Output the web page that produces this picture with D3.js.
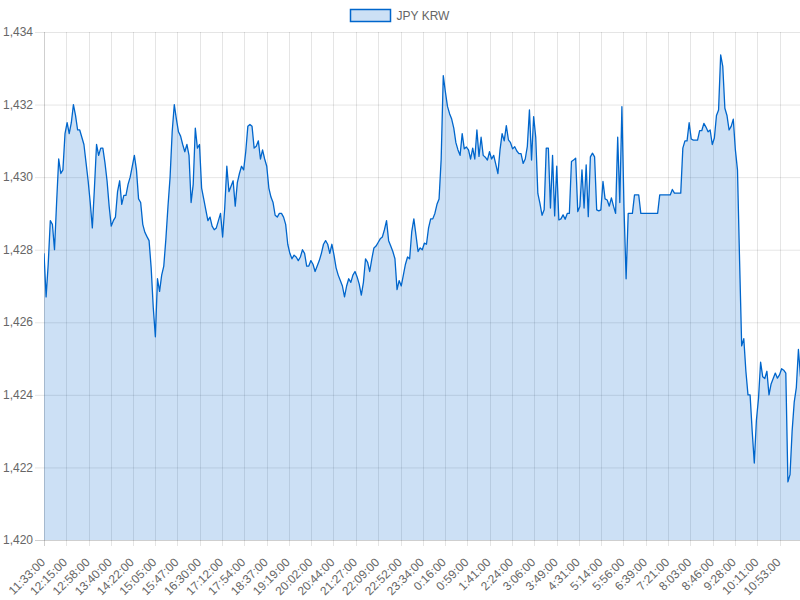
<!DOCTYPE html>
<html>
<head>
<meta charset="utf-8">
<script src="https://cdnjs.cloudflare.com/ajax/libs/d3/7.8.5/d3.min.js"></script>
<style>
    body { margin: 0; background: #fff; }
    svg { display: block; font-family: "Helvetica Neue", Helvetica, Arial, "Liberation Sans", sans-serif; }
    .tick-label { font-size: 12px; fill: #666; }
</style>
</head>
<body>
<script>
// JPY/KRW, one reading every 4 minutes starting 11:33
var seriesName = "JPY KRW";
var startTime = "11:33";
var sampleMinutes = 4;
var rates = [
    1427.9, 1426.7, 1427.6, 1428.8, 1428.7, 1428.0, 1429.3, 1430.5, 1430.1, 1430.2,
    1431.2, 1431.5, 1431.2, 1431.5, 1432.0, 1431.7, 1431.3, 1431.3, 1431.1, 1430.9,
    1430.4, 1429.9, 1429.3, 1428.6, 1429.7, 1430.9, 1430.6, 1430.8, 1430.8, 1430.4,
    1429.9, 1429.2, 1428.65, 1428.8, 1428.9, 1429.6, 1429.9, 1429.25, 1429.5, 1429.5,
    1429.8, 1430.0, 1430.3, 1430.6, 1430.2, 1429.4,
    1429.3, 1428.7, 1428.48, 1428.36, 1428.25, 1427.5, 1426.4, 1425.6, 1427.2, 1426.85,
    1427.3, 1427.55, 1428.3, 1429.2, 1430.0, 1431.25, 1432.0, 1431.6, 1431.25, 1431.13,
    1430.9, 1430.7, 1430.9, 1430.6, 1429.3, 1429.8, 1431.35, 1430.8, 1430.9, 1429.7,
    1429.4, 1429.1, 1428.8, 1428.9, 1428.65, 1428.55, 1428.6, 1428.8, 1429.0, 1428.35,
    1429.15, 1430.3, 1429.6, 1429.75, 1429.9,
    1429.2, 1429.85, 1430.1, 1430.3, 1430.2, 1430.7, 1431.4, 1431.45, 1431.4, 1430.8,
    1430.85, 1431.0, 1430.5, 1430.75, 1430.5, 1430.3, 1429.7, 1429.45, 1429.3, 1428.95,
    1428.9, 1429.0, 1429.0, 1428.9, 1428.7, 1428.15, 1427.9, 1427.75, 1427.85, 1427.8,
    1427.7, 1427.8, 1428.0, 1427.9, 1427.55, 1427.55, 1427.7, 1427.6, 1427.4, 1427.55,
    1427.7, 1427.9, 1428.15, 1428.25, 1428.15, 1427.9,
    1428.15, 1427.85, 1427.5, 1427.3, 1427.15, 1427.0, 1426.7, 1427.0, 1427.2, 1427.1,
    1427.3, 1427.4, 1427.25, 1427.05, 1426.75, 1427.1, 1427.75, 1427.65, 1427.4, 1427.75,
    1428.05, 1428.1, 1428.2, 1428.3, 1428.35, 1428.55, 1428.8, 1428.25, 1428.1, 1427.95,
    1427.75, 1426.9, 1427.15, 1427.0, 1427.3, 1427.6, 1427.8, 1427.75, 1428.5, 1428.85,
    1428.4, 1427.95, 1428.05, 1428.0, 1428.18,
    1428.15, 1428.6, 1428.85, 1428.85, 1429.0, 1429.25, 1429.4, 1430.5, 1432.8, 1432.35,
    1431.95, 1431.75, 1431.6, 1431.35, 1430.95, 1430.75, 1430.6, 1431.2, 1430.78, 1430.83,
    1430.75, 1430.5, 1430.8, 1430.5, 1431.3, 1430.57, 1431.1, 1430.6, 1430.55, 1430.47,
    1430.7, 1430.5, 1430.6, 1430.35, 1430.1, 1430.75, 1431.2, 1431.0, 1431.42, 1431.03,
    1430.95, 1430.78, 1430.84, 1430.72, 1430.65,
    1430.65, 1430.38, 1430.5, 1430.85, 1431.85, 1430.47, 1431.67, 1431.1, 1429.55, 1429.28,
    1428.95, 1429.1, 1430.8, 1430.8, 1429.15, 1430.6, 1428.93, 1430.3, 1428.82, 1428.85,
    1428.96, 1428.84, 1429.0, 1429.0, 1430.43, 1430.47, 1430.52, 1429.05, 1429.19, 1430.2,
    1429.15, 1430.34, 1428.91, 1430.56, 1430.66, 1430.56, 1429.1, 1429.07, 1429.1, 1429.88,
    1429.4, 1429.37, 1429.2, 1429.43, 1429.2,
    1429.0, 1431.1, 1429.3, 1431.94, 1429.15, 1427.2, 1429.0, 1429.0, 1429.0, 1429.51,
    1429.51, 1429.51, 1429.0, 1429.0, 1429.0, 1429.0, 1429.0, 1429.0, 1429.0, 1429.0,
    1429.0, 1429.51, 1429.51, 1429.51, 1429.51, 1429.51, 1429.51, 1429.66, 1429.56, 1429.56,
    1429.56, 1429.56, 1430.8, 1431.0, 1431.0, 1431.5, 1431.05, 1431.02, 1431.02, 1431.02,
    1431.28, 1431.28, 1431.48, 1431.38, 1431.25,
    1431.3, 1430.9, 1431.08, 1431.7, 1431.85, 1433.37, 1433.05, 1431.9, 1431.7, 1431.3,
    1431.4, 1431.6, 1430.75, 1430.2, 1427.7, 1425.35, 1425.55, 1424.65, 1424.0, 1424.0,
    1423.0, 1422.12, 1423.3, 1423.9, 1424.9, 1424.5, 1424.45, 1424.65, 1424.0, 1424.3,
    1424.45, 1424.6, 1424.46, 1424.55, 1424.72, 1424.68, 1424.6, 1421.6, 1421.8, 1423.0,
    1423.8, 1424.2, 1425.25, 1424.5
];
var timeLabels = [
    "11:33:00", "12:15:00", "12:58:00", "13:40:00", "14:22:00", "15:05:00", "15:47:00",
    "16:30:00", "17:12:00", "17:54:00", "18:37:00", "19:19:00", "20:02:00", "20:44:00",
    "21:27:00", "22:09:00", "22:52:00", "23:34:00", "0:16:00", "0:59:00", "1:41:00",
    "2:24:00", "3:06:00", "3:49:00", "4:31:00", "5:14:00", "5:56:00", "6:39:00",
    "7:21:00", "8:03:00", "8:46:00", "9:28:00", "10:11:00", "10:53:00"
];
var rateTicks = [1420, 1422, 1424, 1426, 1428, 1430, 1432, 1434];
var totalMinutes = 1439;

var width = 800;
var height = 600;
var margin = {top: 32, right: 0, bottom: 60, left: 44};
var lineColor = "#0066cc";
var fillColor = "rgba(0, 102, 204, 0.2)";
var gridColor = "rgba(0, 0, 0, 0.1)";

// minutes since the first reading
function toMinutes(str){
    var p = str.split(":");
    var s = startTime.split(":");
    return ((+p[0] * 60 + +p[1]) - (+s[0] * 60 + +s[1]) + 1440) % 1440;
}

var data = rates.map(function(v, i){
    return {minute: i * sampleMinutes, rate: v};
});

var svg = d3.select("body").append("svg")
    .attr("width", width)
    .attr("height", height);

var x = d3.scaleLinear()
    .domain([0, totalMinutes])
    .range([margin.left, width - margin.right]);

var y = d3.scaleLinear()
    .domain([d3.min(rateTicks), d3.max(rateTicks)])
    .range([height - margin.bottom, margin.top]);

/*
 * GRID
 */
var grid = svg.append("g").attr("class", "grid");

grid.selectAll("line.h")
        .data(rateTicks)
    .enter().append("line")
        .attr("x1", margin.left - 9)
        .attr("x2", width - margin.right)
        .attr("y1", function(d){ return y(d) + 0.5; })
        .attr("y2", function(d){ return y(d) + 0.5; })
        .style("stroke", function(d){
            return d === rateTicks[0] ? "rgba(0,0,0,0.19)" : gridColor;
        })
        .style("stroke-width", 1);

grid.selectAll("line.v")
        .data(timeLabels)
    .enter().append("line")
        .attr("x1", function(d){ return Math.round(x(toMinutes(d))) + 0.5; })
        .attr("x2", function(d){ return Math.round(x(toMinutes(d))) + 0.5; })
        .attr("y1", margin.top)
        .attr("y2", height - margin.bottom + 6)
        .style("stroke", function(d, i){
            return i === 0 ? "rgba(0,0,0,0.19)" : gridColor;
        })
        .style("stroke-width", 1);

/*
 * AXIS LABELS
 */
svg.append("g").selectAll("text")
        .data(rateTicks)
    .enter().append("text")
        .attr("class", "tick-label")
        .attr("x", margin.left - 11)
        .attr("y", function(d){ return y(d); })
        .attr("dy", "0.35em")
        .style("text-anchor", "end")
        .text(d3.format(","));

svg.append("g").selectAll("text")
        .data(timeLabels)
    .enter().append("text")
        .attr("class", "tick-label")
        .attr("transform", function(d){
            return "translate(" + (x(toMinutes(d)) - 1) + "," + (height - margin.bottom + 20) + ") rotate(-45)";
        })
        .attr("dy", "0.35em")
        .style("text-anchor", "end")
        .text(function(d){ return d; });

/*
 * SERIES
 */
svg.append("clipPath")
        .attr("id", "plot")
    .append("rect")
        .attr("x", margin.left)
        .attr("y", 0)
        .attr("width", width - margin.left - margin.right)
        .attr("height", height - margin.bottom);

var area = d3.area()
    .x(function(d){ return x(d.minute); })
    .y0(y(d3.min(rateTicks)))
    .y1(function(d){ return y(d.rate); });

var line = d3.line()
    .x(function(d){ return x(d.minute); })
    .y(function(d){ return y(d.rate); });

var series = svg.append("g")
    .attr("clip-path", "url(#plot)");

series.append("path")
    .datum(data)
    .attr("d", area)
    .style("fill", fillColor)
    .style("stroke", "none");

series.append("path")
    .datum(data)
    .attr("d", line)
    .style("fill", "none")
    .style("stroke", lineColor)
    .style("stroke-width", 1.3)
    .style("stroke-linejoin", "round");

/*
 * LEGEND
 */
var legend = svg.append("g")
    .attr("transform", "translate(350.5, 9.5)");

legend.append("rect")
    .attr("width", 40)
    .attr("height", 12)
    .style("fill", fillColor)
    .style("stroke", lineColor)
    .style("stroke-width", 1.5);

legend.append("text")
    .attr("class", "tick-label")
    .attr("x", 46)
    .attr("y", 6)
    .attr("dy", "0.35em")
    .text(seriesName);
</script>
</body>
</html>
